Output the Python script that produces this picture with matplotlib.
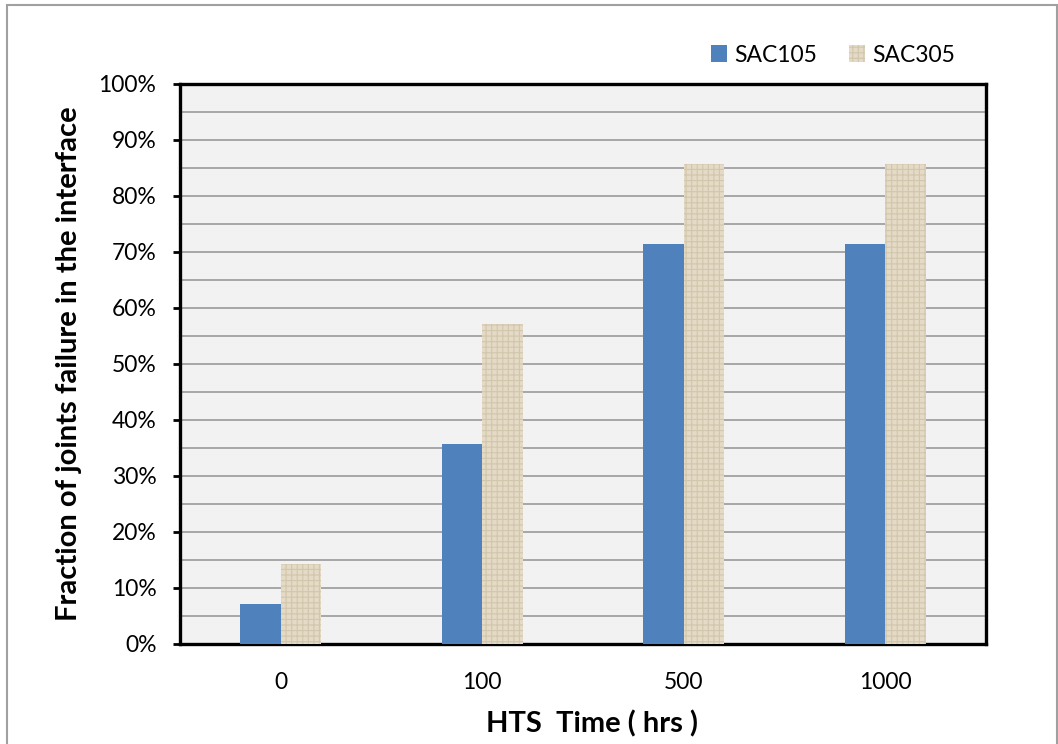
import matplotlib
matplotlib.use("Agg")
import matplotlib.pyplot as plt
import numpy as np
from matplotlib.patches import Rectangle

plt.rcParams['font.family'] = ['Lato', 'DejaVu Sans']
plt.rcParams['hatch.linewidth'] = 0.8

# Data
categories = ["0", "100", "500", "1000"]
sac105 = [7.14, 35.71, 71.43, 71.43]
sac305 = [14.29, 57.14, 85.71, 85.71]
series_names = ["SAC105", "SAC305"]

fig = plt.figure(figsize=(10.58, 7.44), dpi=100)
ax = fig.add_axes([180/1058, 1-644/744, (986-180)/1058, (644-84)/744])
ax.set_facecolor('#f2f2f2')

x = np.arange(len(categories))
w = 0.2
ax.bar(x - w/2, sac105, width=w, color='#4f81bd', label=series_names[0], zorder=3)
ax.bar(x + w/2, sac305, width=w, color='#e4dac5', edgecolor='#d2c6ad',
       hatch='+++', linewidth=0, label=series_names[1], zorder=3)

ax.set_xlim(-0.5, len(categories) - 0.5)
ax.set_ylim(0, 100)
ax.set_yticks(np.arange(0, 101, 10))
ax.set_yticklabels([f"{v}%" for v in range(0, 101, 10)])
ax.set_yticks(np.arange(0, 101, 5), minor=True)
ax.tick_params(axis='y', which='minor', length=0)
ax.grid(axis='y', which='both', color='#a6a6a6', linewidth=1.4, zorder=0)
ax.set_xticks(x)
ax.set_xticklabels(categories)

ax.tick_params(axis='y', which='major', direction='out', length=5, width=2,
               pad=12, labelsize=16.5, colors='black')
ax.tick_params(axis='x', length=0, pad=20, labelsize=16.5)
for s in ax.spines.values():
    s.set_linewidth(2.4)
    s.set_color('black')

ax.set_ylabel("Fraction of joints failure in the interface", fontsize=21,
              fontweight='bold', labelpad=12)
ax.set_xlabel("HTS  Time ( hrs )", fontsize=21, fontweight='bold')
ax.xaxis.set_label_coords(0.511, -0.118)

leg = fig.legend(loc='center', bbox_to_anchor=(833/1058, 1-55/744), ncol=2,
                 frameon=False, fontsize=16.5, handlelength=0.7, handleheight=0.7,
                 handletextpad=0.3, columnspacing=1.4)

# outer chart border
fig.patches.append(Rectangle((7/1058, -0.05), (1057-7)/1058, 1.05 - 5/744,
                             transform=fig.transFigure, fill=False,
                             edgecolor='#a0a0a0', linewidth=1.5))

fig.savefig("out.png", dpi=100)
